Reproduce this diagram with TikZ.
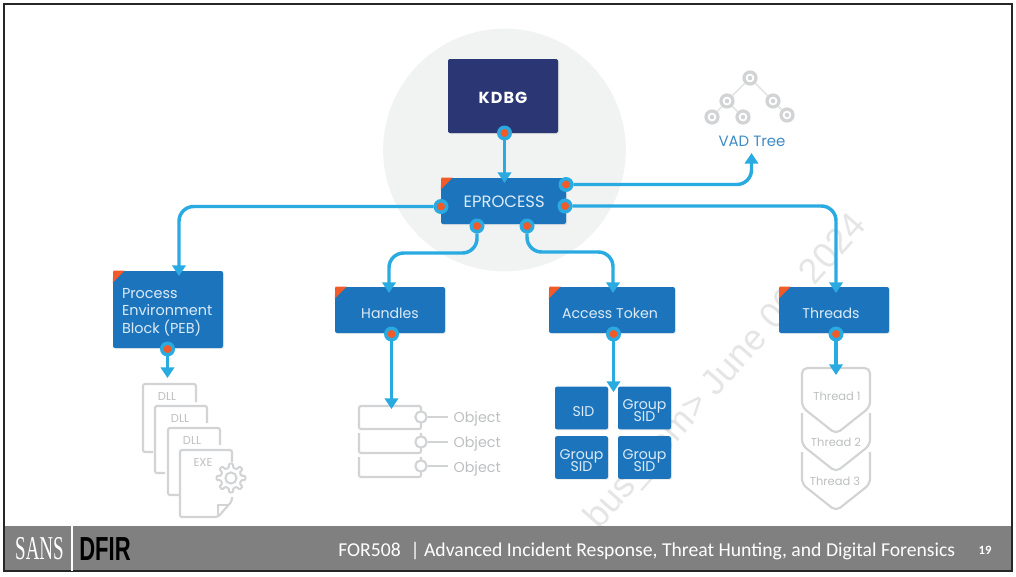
\documentclass[tikz,border=0pt]{standalone}
\usepackage{fontspec}
\setmainfont{Poppins}
\newfontfamily\footfont{Carlito}
\newfontfamily\logoserif{Liberation Serif}
\newfontfamily\logosans{Liberation Sans}
\usetikzlibrary{arrows.meta,shadows}
\definecolor{kdbgblue}{HTML}{2B3674}
\definecolor{boxblue}{HTML}{1C75BC}
\definecolor{flowblue}{HTML}{29ABE2}
\definecolor{portorange}{HTML}{F15A29}
\definecolor{icongray}{HTML}{D1D3D4}
\definecolor{icontext}{HTML}{BCBEC0}
\definecolor{circlegray}{HTML}{F1F2F2}
\definecolor{boxtext}{HTML}{DCEBF7}
\newcommand{\lowbox}[2]{\raisebox{#1}[0pt][0pt]{#2}}
\newcommand{\groupsid}{\lowbox{-4.8pt}{\parbox{39pt}{\centering\lineskiplimit=-20pt\relax Group\\SID}}}
\tikzset{
	bluebox/.style={fill=boxblue, rounded corners=1.5pt, inner sep=0pt, text=boxtext, font=\fontsize{10.6}{13}\selectfont, drop shadow={opacity=.15, shadow xshift=.8pt, shadow yshift=-.8pt}},
	sidbox/.style={bluebox, minimum width=39.75pt, minimum height=32pt, font=\fontsize{10.6}{9}\selectfont},
	port/.style={circle, fill=portorange, draw=flowblue, line width=2.6pt, minimum size=8.6pt, inner sep=0pt},
	flow/.style={draw=flowblue, line width=2.6pt, rounded corners=11pt, -{Triangle[length=8pt, width=10pt]}},
	icon/.style={draw=icongray, line width=1.6pt, rounded corners=1.5pt},
	icontxt/.style={text=icontext, inner sep=0pt, font=\fontsize{8.6}{10}\selectfont},
	objtxt/.style={text=icontext, inner sep=2.5pt, anchor=west, font=\fontsize{10.7}{12}\selectfont},
	objring/.style={circle, draw=icongray, fill=white, line width=1.6pt, minimum size=8.5pt, inner sep=0pt},
	treering/.style={circle, draw=icongray, fill=white, line width=2.4pt, minimum size=9pt, inner sep=0pt, path picture={\fill[icongray] (path picture bounding box.center) circle (1.7pt);}},
	treeline/.style={draw=icongray!60, line width=1.2pt},
}
\begin{document}
\begin{tikzpicture}[x=.75pt, y=-.75pt]
	\useasboundingbox (0, 0) rectangle (1016, 576);
	\fill[circlegray] (504.5, 150) circle (91pt);
	\node[rotate=48.5, anchor=east, text=black!10, font=\logosans\fontsize{27}{30}\selectfont] (watermark) at (864, 217) {bus\_com> June 06, 2024};

	\node[fill=kdbgblue, rounded corners=1.5pt, minimum width=82.5pt, minimum height=55.5pt, inner sep=0pt, text=white, font=\fontsize{12}{14}\bfseries\selectfont, drop shadow={opacity=.15, shadow xshift=.8pt, shadow yshift=-.8pt}] (kdbg) at (503, 96) {\lowbox{-5.8pt}{K\kern.8pt D\kern.8pt B\kern.8pt G}};
	\node[bluebox, minimum width=93.75pt, minimum height=34.5pt, font=\fontsize{12.3}{14}\selectfont] (eprocess) at (503.5, 201) {\lowbox{-5pt}{\hspace{1pt}EPROCESS}};
	\node[bluebox, minimum width=82.5pt, minimum height=57.75pt] (peb) at (168, 309.5) {\lowbox{-4.8pt}{\parbox{69pt}{\fontsize{10.8}{13}\selectfont Process\\Environment\\Block (PEB)}}};
	\node[bluebox, minimum width=82.5pt, minimum height=34.5pt] (handles) at (390, 310) {\lowbox{-6pt}{Handles}};
	\node[bluebox, minimum width=94.5pt, minimum height=34.5pt] (token) at (612, 310) {\lowbox{-6pt}{\hspace{-3pt}Access Token}};
	\node[bluebox, minimum width=82.5pt, minimum height=34.5pt] (threads) at (834, 310) {\lowbox{-6pt}{\hspace{-4.5pt}Threads}};
	\foreach \boxname in {eprocess, peb, handles, token, threads}
		\fill[portorange] ([yshift=-9pt]\boxname.north west) -- ([xshift=.5pt]\boxname.north west) -- ([xshift=9pt]\boxname.north west) -- cycle;

	\node[sidbox] (sida) at (581.5, 408) {\lowbox{-6pt}{\hspace{3pt}SID}};
	\node[sidbox] (sidb) at (644.5, 408) {\groupsid};
	\node[sidbox] (sidc) at (581.5, 457.5) {\groupsid};
	\node[sidbox] (sidd) at (644.5, 457.5) {\groupsid};

	\node[port] (kdbgout) at (504.5, 133) {};
	\node[port] (eprocup) at (566, 184.5) {};
	\node[port] (eprocright) at (565, 206) {};
	\node[port] (eprocleft) at (441, 206.5) {};
	\node[port] (eprocdowna) at (477, 226) {};
	\node[port] (eprocdownb) at (527, 226) {};
	\node[port] (pebout) at (167.5, 349) {};
	\node[port] (handlesout) at (391.5, 334) {};
	\node[port] (tokenout) at (613.5, 334) {};
	\node[port] (threadsout) at (836, 334) {};

	\coordinate (eprocin) at (504.5, 183);
	\coordinate (pebin) at (179, 276);
	\coordinate (handlesin) at (389, 293);
	\coordinate (tokenin) at (613, 293);
	\coordinate (threadsin) at (836, 293);
	\coordinate (vadin) at (751.5, 153);
	\coordinate (dllin) at (167.5, 378);
	\coordinate (tablein) at (391.5, 409);
	\coordinate (sidin) at (613.5, 392);
	\coordinate (threadlistin) at (836, 375);

	\node[treering] (vada) at (750, 78) {};
	\node[treering] (vadb) at (727, 101) {};
	\node[treering] (vadc) at (773, 101) {};
	\node[treering] (vadd) at (712, 117) {};
	\node[treering] (vade) at (743, 117) {};
	\node[treering] (vadf) at (787, 115) {};
	\draw[treeline] (vada) -- (vadb);
	\draw[treeline] (vada) -- (vadc);
	\draw[treeline] (vadb) -- (vadd);
	\draw[treeline] (vadb) -- (vade);
	\draw[treeline] (vadc) -- (vadf);
	\node[text=boxblue!85, inner sep=0pt, font=\fontsize{11.2}{12}\selectfont] (vadlabel) at (752, 141) {VAD Tree};

	\draw[icon] (196, 402) -- (196, 384) -- (143, 384) -- (143, 452) -- (153, 452);
	\draw[icon] (207, 423) -- (207, 406) -- (155, 406) -- (155, 473) -- (165, 473);
	\draw[icon] (220, 445) -- (220, 428) -- (168, 428) -- (168, 495) -- (179, 495);
	\draw[icon] (232, 462) -- (232, 450) -- (180, 450) -- (180, 517) -- (218, 517) -- (232, 501) -- (232, 497);
	\draw[icon, rounded corners=0pt, line width=1.2pt] (218, 517) -- (218, 505) -- (229, 505);
	\node[icontxt] (dlla) at (167, 396) {DLL};
	\node[icontxt] (dllb) at (180, 418) {DLL};
	\node[icontxt] (dllc) at (192, 440) {DLL};
	\node[icontxt] (exe) at (203, 462) {EXE};
	\draw[icon, fill=white, rounded corners=.7pt, line width=1.5pt] ([shift={(231, 478)}]-12:10.5) \foreach \ang in {0, 45, ..., 315} {-- ([shift={(231, 478)}]\ang-12:10.5) -- ([shift={(231, 478)}]\ang-8:14.5) -- ([shift={(231, 478)}]\ang+8:14.5) -- ([shift={(231, 478)}]\ang+12:10.5)} -- cycle;
	\draw[icongray, line width=1.5pt] (231, 478) circle (4.2pt);

	\draw[icon] (359, 406) rectangle (421, 429);
	\draw[icon] (359, 433) -- (359, 453) -- (421, 453) -- (421, 433);
	\draw[icon] (359, 457) -- (359, 477) -- (421, 477) -- (421, 457);
	\node[objring] (ringa) at (421, 417) {};
	\node[objring] (ringb) at (421, 442) {};
	\node[objring] (ringc) at (421, 466) {};
	\node[objtxt] (objecta) at (450, 419) {Object};
	\node[objtxt] (objectb) at (450, 443.5) {Object};
	\node[objtxt] (objectc) at (450, 469) {Object};
	\draw[icon] (ringa) -- (448, 417);
	\draw[icon] (ringb) -- (448, 442);
	\draw[icon] (ringc) -- (448, 466);

	\draw[icon, rounded corners=4pt] (802, 368) -- (870, 368) -- (870, 407) -- (836, 434) -- (802, 407) -- cycle;
	\draw[icon, rounded corners=4pt] (802, 413) -- (802, 445) -- (836, 472) -- (870, 445) -- (870, 413);
	\draw[icon, rounded corners=4pt] (802, 452) -- (802, 484) -- (836, 511) -- (870, 484) -- (870, 452);
	\node[icontxt] (threadone) at (837, 396) {Thread 1};
	\node[icontxt] (threadtwo) at (836, 442) {Thread 2};
	\node[icontxt] (threadthree) at (835, 481) {Thread 3};

	\draw[flow] (kdbgout) -- (eprocin);
	\draw[flow] (eprocleft) -| (pebin);
	\draw[flow] (eprocright) -| (threadsin);
	\draw[flow] (eprocup) -| (vadin);
	\draw[flow] (eprocdowna) -- ++(0, 27) -| (handlesin);
	\draw[flow] (eprocdownb) -- ++(0, 26) -| (tokenin);
	\draw[flow] (pebout) -- (dllin);
	\draw[flow] (handlesout) -- (tablein);
	\draw[flow] (tokenout) -- (sidin);
	\draw[flow] (threadsout) -- (threadlistin);

	\fill[black!50] (4, 526) rectangle (1012, 571);
	\draw[black!85, line width=1pt] (4, 4) rectangle (1012, 571);
	\fill[white] (70.5, 526) rectangle (72.5, 571);
	\node[text=white, inner sep=0pt, font=\logoserif\fontsize{25}{26}\selectfont] (sans) at (39.5, 549) {\scalebox{.57}[1]{SANS}};
	\node[text=black, inner sep=0pt, font=\logosans\fontsize{25}{26}\bfseries\selectfont] (dfir) at (105, 549) {\scalebox{.66}[1]{DFIR}};
	\node[text=white, inner sep=0pt, anchor=west, font=\footfont\fontsize{14.75}{16}\selectfont] (course) at (338, 551) {FOR508\hspace{.5em}| Advanced Incident Response, Threat Hunting, and Digital Forensics};
	\node[text=white, inner sep=0pt, font=\footfont\fontsize{9.5}{10}\bfseries\selectfont] (pageno) at (985, 550) {19};
\end{tikzpicture}
\end{document}
